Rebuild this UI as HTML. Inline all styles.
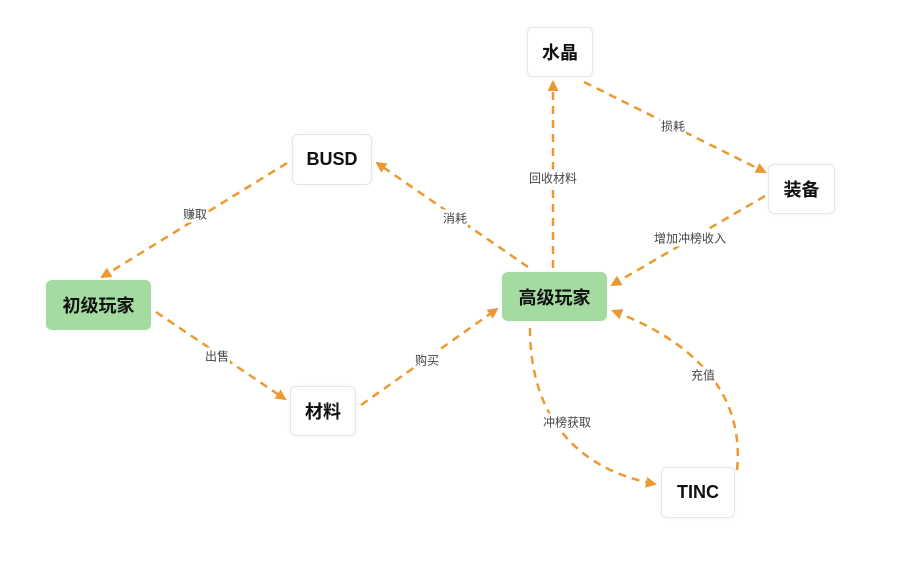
<!DOCTYPE html>
<html><head><meta charset="utf-8"><style>
body{margin:0;width:900px;height:568px;background:#fff;overflow:hidden;position:relative;font-family:"Liberation Sans","Noto Sans CJK SC",sans-serif}
.n{position:absolute;box-sizing:border-box;border:1px solid #e6e6e6;border-radius:6px;background:#fff;display:flex;align-items:center;justify-content:center;font-weight:bold;font-size:18px;color:#111;box-shadow:0 0 3px rgba(0,0,0,0.06)}
.g{background:#a3dba0;border-color:#a3dba0}
.l{position:absolute;font-size:12px;color:#444;background:#fff;transform:translate(-50%,-50%);white-space:nowrap;padding:0 1px}
svg{position:absolute;left:0;top:0}
</style></head><body>
<svg width="900" height="568">
<defs><marker id="a" markerWidth="11" markerHeight="11" refX="9" refY="5.5" orient="auto" markerUnits="userSpaceOnUse"><path d="M0,0 L11,5.5 L0,11 Z" fill="#eb9a32"/></marker></defs>
<g stroke="#eb9a32" stroke-width="2.5" stroke-dasharray="8,6" fill="none" marker-end="url(#a)">
<path d="M287,163 L102,277"/>
<path d="M156,312 L285,399"/>
<path d="M361,405 L497,309"/>
<path d="M528,267 L377,163"/>
<path d="M553,268 L553,82"/>
<path d="M584,82 L765,172"/>
<path d="M765,196 L612,285"/>
<path d="M530,328 C530,420 580,470 655,484"/>
<path d="M737,470 C745,390 690,340 613,311"/>
</g></svg>
<div class="l" style="left:195px;top:214px">赚取</div>
<div class="l" style="left:217px;top:356px">出售</div>
<div class="l" style="left:427px;top:360px">购买</div>
<div class="l" style="left:455px;top:218px">消耗</div>
<div class="l" style="left:553px;top:178px">回收材料</div>
<div class="l" style="left:673px;top:126px">损耗</div>
<div class="l" style="left:690px;top:238px">增加冲榜收入</div>
<div class="l" style="left:567px;top:422px">冲榜获取</div>
<div class="l" style="left:703px;top:375px">充值</div>
<div class="n" style="left:527px;top:27px;width:66px;height:50px">水晶</div>
<div class="n" style="left:768px;top:164px;width:67px;height:50px">装备</div>
<div class="n" style="left:292px;top:134px;width:80px;height:51px">BUSD</div>
<div class="n g" style="left:46px;top:280px;width:105px;height:50px">初级玩家</div>
<div class="n g" style="left:502px;top:272px;width:105px;height:49px">高级玩家</div>
<div class="n" style="left:290px;top:386px;width:66px;height:50px">材料</div>
<div class="n" style="left:661px;top:467px;width:74px;height:51px">TINC</div>
</body></html>
